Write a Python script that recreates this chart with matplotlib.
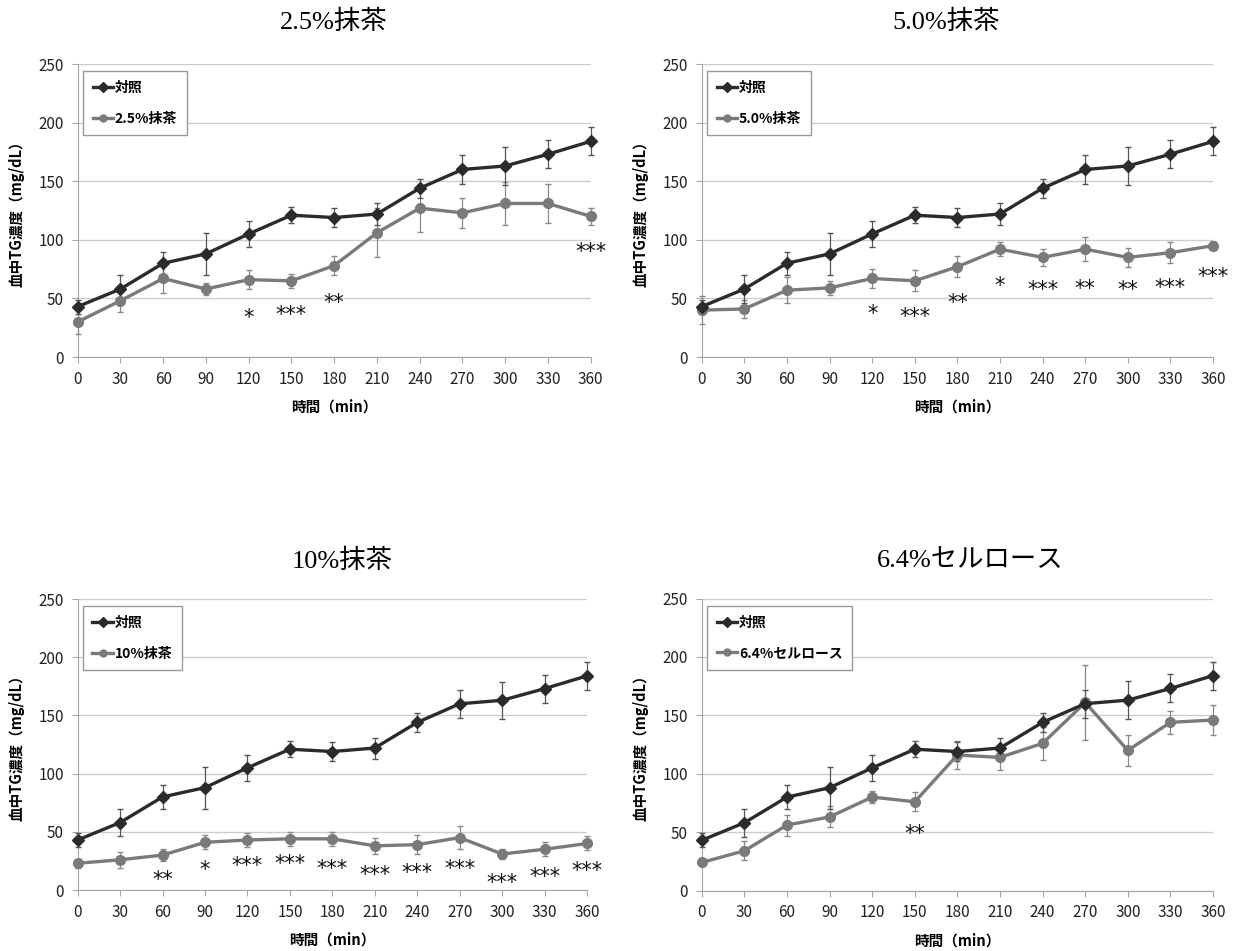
import matplotlib.pyplot as plt

plt.rcParams['font.family'] = ['Noto Sans CJK JP', 'DejaVu Sans']

times = [0, 30, 60, 90, 120, 150, 180, 210, 240, 270, 300, 330, 360]

# control group (same in every panel)
ctrl = [43, 58, 80, 88, 105, 121, 119, 122, 144, 160, 163, 173, 184]
ctrl_err = [6, 12, 10, 18, 11, 7, 8, 9, 8, 12, 16, 12, 12]

titles = ['2.5%抹茶', '5.0%抹茶', '10%抹茶', '6.4%セルロース']

tea25 = [30, 48, 67, 58, 66, 65, 78, 106, 127, 123, 131, 131, 120]
tea25_err = [10, 10, 12, 5, 8, 6, 8, 21, 20, 13, 18, 17, 7]
tea25_stars = {120: ('*', 33), 150: ('***', 36), 180: ('**', 46), 360: ('***', 90)}

tea50 = [40, 41, 57, 59, 67, 65, 77, 92, 85, 92, 85, 89, 95]
tea50_err = [12, 8, 11, 6, 8, 9, 9, 6, 7, 10, 8, 9, 4]
tea50_stars = {120: ('*', 37), 150: ('***', 34), 180: ('**', 46), 210: ('*', 61),
               240: ('***', 57), 270: ('**', 58), 300: ('**', 57), 330: ('***', 59),
               360: ('***', 68)}

tea10 = [23, 26, 30, 41, 43, 44, 44, 38, 39, 45, 31, 35, 40]
tea10_err = [4, 7, 5, 6, 6, 6, 6, 7, 8, 10, 4, 6, 6]
tea10_stars = {60: ('**', 9), 90: ('*', 17), 120: ('***', 21), 150: ('***', 22),
               180: ('***', 18), 210: ('***', 13), 240: ('***', 15), 270: ('***', 18),
               300: ('***', 6), 330: ('***', 11), 360: ('***', 16)}

cell = [24, 34, 56, 63, 80, 76, 116, 114, 126, 161, 120, 144, 146]
cell_err = [3, 8, 9, 9, 5, 8, 12, 11, 14, 32, 13, 10, 13]
cell_stars = {150: ('**', 48)}

groups = [
    (tea25, tea25_err, tea25_stars),
    (tea50, tea50_err, tea50_stars),
    (tea10, tea10_err, tea10_stars),
    (cell, cell_err, cell_stars),
]

positions = [
    [0.0629, 0.6246, 0.4154, 0.3081],
    [0.5682, 0.6246, 0.4140, 0.3081],
    [0.0629, 0.0641, 0.4124, 0.3060],
    [0.5682, 0.0636, 0.4140, 0.3070],
]
title_pos = [(334, 22), (946, 22), (342, 561), (970, 561)]

dark = '#2b2b2b'
grey = '#7a7a7a'
axis_grey = '#a6a6a6'

fig = plt.figure(figsize=(12.35, 9.51), dpi=100)

for pos, (tx, ty), title, (vals, errs, stars) in zip(positions, title_pos, titles, groups):
    ax = fig.add_axes(pos)
    ax.errorbar(times, ctrl, yerr=ctrl_err, fmt='none', elinewidth=0.9,
                ecolor='#555555', capsize=2.5, clip_on=False, zorder=4)
    ax.errorbar(times, vals, yerr=errs, fmt='none', elinewidth=0.9,
                ecolor='#888888', capsize=2.5, clip_on=False, zorder=3)
    ax.plot(times, ctrl, color=dark, lw=2.4, marker='D', ms=6, label='対照',
            clip_on=False, zorder=5)
    ax.plot(times, vals, color=grey, lw=2.4, marker='o', ms=7, label=title,
            clip_on=False, zorder=4)
    for t, (s, y) in stars.items():
        ax.text(t, y, s, ha='center', va='center', fontsize=15, color='#111111',
                family=['DejaVu Sans'])

    ax.set_xlim(0, 360)
    ax.set_ylim(0, 250)
    ax.set_xticks(times)
    ax.set_yticks(range(0, 251, 50))
    ax.grid(axis='y', color='#cccccc', lw=1)
    ax.set_axisbelow(True)
    for side in ['top', 'right']:
        ax.spines[side].set_visible(False)
    for side in ['left', 'bottom']:
        ax.spines[side].set_color(axis_grey)
    ax.tick_params(length=4, color=axis_grey, labelsize=11, labelcolor='#222222', pad=6)

    ax.set_xlabel('時間（min）', fontsize=10.5, fontweight='bold', labelpad=8)
    ax.set_ylabel('血中TG濃度（mg/dL）', fontsize=10.5, fontweight='bold', labelpad=10)

    leg = ax.legend(loc='upper left', bbox_to_anchor=(0.01, 0.975), borderaxespad=0,
                    fancybox=False, edgecolor='#999999', framealpha=1,
                    handlelength=1.5, handletextpad=0.1, labelspacing=1.2,
                    borderpad=0.7, prop={'size': 10, 'weight': 'bold'})
    for h in leg.legend_handles:
        h.set_markersize(5)

    fig.text(tx / 1235, 1 - ty / 951, title, ha='center', va='center', fontsize=19,
             family=['Liberation Serif', 'Noto Sans CJK JP'])

fig.savefig('out.png')
